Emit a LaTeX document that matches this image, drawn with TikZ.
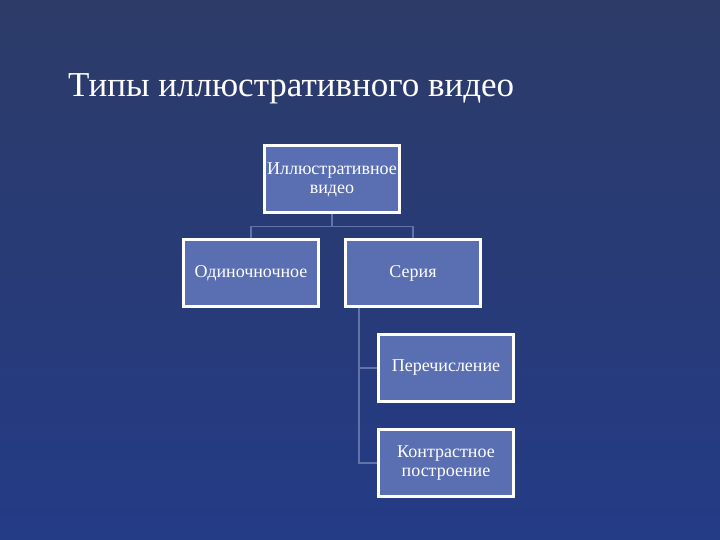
\documentclass[tikz,border=0pt]{standalone}
\usepackage{fontspec}
\setmainfont{Liberation Serif}
\usepackage{tikz}
\usetikzlibrary{calc}

\definecolor{bgtop}{RGB}{44,59,104}
\definecolor{bgmid}{RGB}{48,68,124}
\definecolor{bgbot}{RGB}{36,59,134}
\definecolor{boxblue}{RGB}{90,111,178}
\definecolor{linkblue}{RGB}{98,114,170}

\tikzset{
    orgbox/.style={draw=white, line width=2pt, fill=boxblue, text=white,
        minimum width=134pt, minimum height=66pt, inner sep=1pt,
        align=center, font=\fontsize{18}{19}\selectfont},
    link/.style={draw=linkblue, line width=1.2pt}
}

\begin{document}
\begin{tikzpicture}[x=1pt,y=-1pt]
    \shade[top color=bgtop, middle color=bgmid, bottom color=bgbot] (0,0) rectangle (720,540);
    \useasboundingbox (0,0) rectangle (720,540);

    \node[anchor=base west, text=white, font=\fontsize{35}{40}\selectfont, inner sep=0pt] (title) at (68,97) {Типы иллюстративного видео};

    \node[orgbox] (root)   at (332,179.5) {Иллюстративное\\видео};
    \node[orgbox] (single) at (251,273) {Одиночночное};
    \node[orgbox] (series) at (413,273) {Серия};
    \node[orgbox] (enum)   at (446,368) {Перечисление};
    \node[orgbox] (contr)  at (446,463) {Контрастное\\построение};

    % links
    \foreach \kid in {single,series} {
        \draw[link] (root.south) -- ++(0,13) -| (\kid.north);
    }
    \coordinate (trunk) at ([xshift=14pt]series.south west);
    \foreach \kid in {enum,contr} {
        \draw[link] (trunk) |- (\kid.west);
    }

    % boxes drawn again on top of the links
    \foreach \b in {root,single,series,enum,contr} {
        \draw[white, line width=2pt] (\b.north west) rectangle (\b.south east);
    }
\end{tikzpicture}
\end{document}
